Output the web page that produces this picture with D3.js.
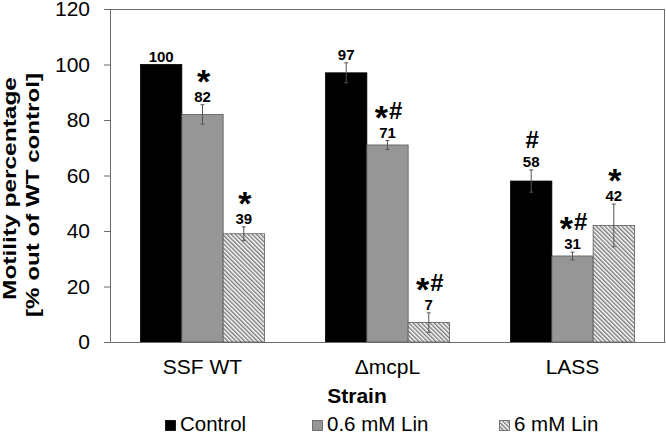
<!DOCTYPE html>
<html><head><meta charset="utf-8">
<script src="https://cdn.jsdelivr.net/npm/d3@7"></script>
<style>
html,body{margin:0;padding:0;background:#fff;}
svg{display:block;}
text{font-family:"Liberation Sans",Arial,sans-serif;fill:#000;}
</style></head>
<body><svg id="chart" width="666" height="432"></svg>
<script>
const categories = ["SSF WT", "\u0394mcpL", "LASS"];
const seriesNames = ["Control", "0.6 mM Lin", "6 mM Lin"];
const controlValues = [100, 97, 58];
const lin06Values = [82, 71, 31];
const lin6Values = [39, 7, 42];
const controlErrors = [0, 3.6, 4.0];
const lin06Errors = [3.5, 1.6, 1.4];
const lin6Errors = [2.5, 3.5, 7.7];
const controlMarks = ["", "", "#"];
const lin06Marks = ["*", "*#", "*#"];
const lin6Marks = ["*", "*#", "*"];
const yTicks = [0, 20, 40, 60, 80, 100, 120];
const yTitle = ["Motility percentage", "[% out of WT control]"];
const xTitle = "Strain";

const seriesValues = [controlValues, lin06Values, lin6Values];
const seriesErrors = [controlErrors, lin06Errors, lin6Errors];
const seriesMarks = [controlMarks, lin06Marks, lin6Marks];

const svg = d3.select("#chart");
const defs = svg.append("defs");
const pat = defs.append("pattern").attr("id","hatch").attr("patternUnits","userSpaceOnUse")
  .attr("width",3).attr("height",3).attr("patternTransform","rotate(-45)");
pat.append("rect").attr("width",3).attr("height",3).attr("fill","#ffffff");
pat.append("line").attr("x1",0.75).attr("y1",0).attr("x2",0.75).attr("y2",3)
  .attr("stroke","#6a6a6a").attr("stroke-width",1.3);

const fills = ["#000000", "#969696", "url(#hatch)"];
const strokes = ["#000000", "#5a5a5a", "#5a5a5a"];
const axisColor = "#6b6b6b";

const pLeft = 110, pRight = 665, pTop = 9, pBottom = 342;
const y = d3.scaleLinear().domain([0, 120]).range([pBottom, pTop]);
const x0 = d3.scaleBand().domain(categories).range([pLeft, pRight]).padding(0);
const x1 = d3.scaleBand().domain(seriesNames).range([0, x0.bandwidth()]).paddingInner(0).paddingOuter(0.74);

// frame top & right
svg.append("line").attr("x1",pLeft).attr("x2",pRight-0.5).attr("y1",pTop+0.5).attr("y2",pTop+0.5).attr("stroke",axisColor);
svg.append("line").attr("x1",pRight-0.5).attr("x2",pRight-0.5).attr("y1",pTop).attr("y2",pBottom).attr("stroke",axisColor);

// bars
const rows = [];
categories.forEach((c, ci) => {
  seriesNames.forEach((s, si) => {
    rows.push({cat:c, ser:s, si, v:seriesValues[si][ci], e:seriesErrors[si][ci], m:seriesMarks[si][ci]});
  });
});
const cx = d => x0(d.cat) + x1(d.ser) + x1.bandwidth()/2;
const g = svg.append("g");
g.selectAll("rect.bar").data(rows).join("rect").attr("class","bar")
  .attr("x", d => x0(d.cat) + x1(d.ser))
  .attr("y", d => y(d.v))
  .attr("width", x1.bandwidth())
  .attr("height", d => y(0) - y(d.v))
  .attr("fill", d => fills[d.si])
  .attr("stroke", d => strokes[d.si]).attr("stroke-width", 0.8);

// error bars
const eb = g.selectAll("g.err").data(rows.filter(d => d.e > 0)).join("g").attr("class","err")
  .attr("stroke","#555").attr("stroke-width",1);
eb.append("line")
  .attr("x1", cx).attr("x2", cx)
  .attr("y1", d => y(d.v + d.e)).attr("y2", d => y(d.v - d.e));
[1,-1].forEach(sgn => {
  eb.append("line")
    .attr("x1", d => cx(d) - 2).attr("x2", d => cx(d) + 2)
    .attr("y1", d => y(d.v + sgn*d.e)).attr("y2", d => y(d.v + sgn*d.e));
});

// value labels
const nb = d => y(d.v + d.e) - 3;
g.selectAll("text.val").data(rows).join("text").attr("class","val")
  .attr("x", cx)
  .attr("y", nb)
  .attr("text-anchor","middle").attr("font-size",15).attr("font-weight","bold")
  .text(d => d.v);

// significance marks
const astSize = 34, astShift = 10;
const mk = g.selectAll("text.mark").data(rows.filter(d => d.m)).join("text").attr("class","mark")
  .attr("x", d => cx(d) + 1)
  .attr("y", d => nb(d) - 19)
  .attr("text-anchor","middle").attr("font-weight","bold").attr("font-size",24);
mk.each(function(d){
  const t = d3.select(this);
  let shifted = 0;
  for (const ch of d.m) {
    if (ch === "*") {
      t.append("tspan").attr("font-size",astSize).attr("dy", astShift - shifted).text("*");
      shifted = astShift;
    } else {
      t.append("tspan").attr("dy", -shifted).attr("dx", shifted ? 1 : 0).text(ch);
      shifted = 0;
    }
  }
});

// y axis
const yAxis = svg.append("g").attr("transform",`translate(${pLeft},0)`)
  .call(d3.axisLeft(y).tickValues(yTicks).tickSize(6).tickPadding(14).tickSizeOuter(0));
yAxis.select(".domain").attr("stroke",axisColor);
yAxis.selectAll(".tick line").attr("stroke",axisColor);
yAxis.selectAll(".tick text").attr("font-size",21).attr("fill","#000")
  .attr("font-family",'"Liberation Sans",Arial,sans-serif');

// x axis
const xAxis = svg.append("g").attr("transform",`translate(0,${pBottom})`)
  .call(d3.axisBottom(x0).tickSize(0).tickPadding(0));
xAxis.select(".domain").attr("stroke",axisColor);
xAxis.selectAll(".tick text").attr("font-size",21).attr("fill","#000").attr("dy",null).attr("y",32)
  .attr("font-family",'"Liberation Sans",Arial,sans-serif');

// axis titles
svg.append("text").attr("x",357).attr("y",403).attr("text-anchor","middle")
  .attr("font-size",21).attr("font-weight","bold").text(xTitle);
const yt = [[15.5,188.5,223],[39,195,244]];
yTitle.forEach((t,i) => {
  svg.append("text").attr("transform",`translate(${yt[i][0]},${yt[i][1]}) rotate(-90)`)
    .attr("text-anchor","middle").attr("font-size",19).attr("font-weight","bold")
    .attr("textLength",yt[i][2]).attr("lengthAdjust","spacingAndGlyphs").text(t);
});

// legend
const lgX = [165, 312, 499];
const lg = svg.append("g");
seriesNames.forEach((s, i) => {
  lg.append("rect").attr("x",lgX[i]+0.5).attr("y",420.5).attr("width",10).attr("height",10)
    .attr("fill",fills[i]).attr("stroke",strokes[i]).attr("stroke-width",0.8);
  lg.append("text").attr("x",lgX[i]+15).attr("y",430.5).attr("font-size",20.5).text(s);
});
</script></body></html>
